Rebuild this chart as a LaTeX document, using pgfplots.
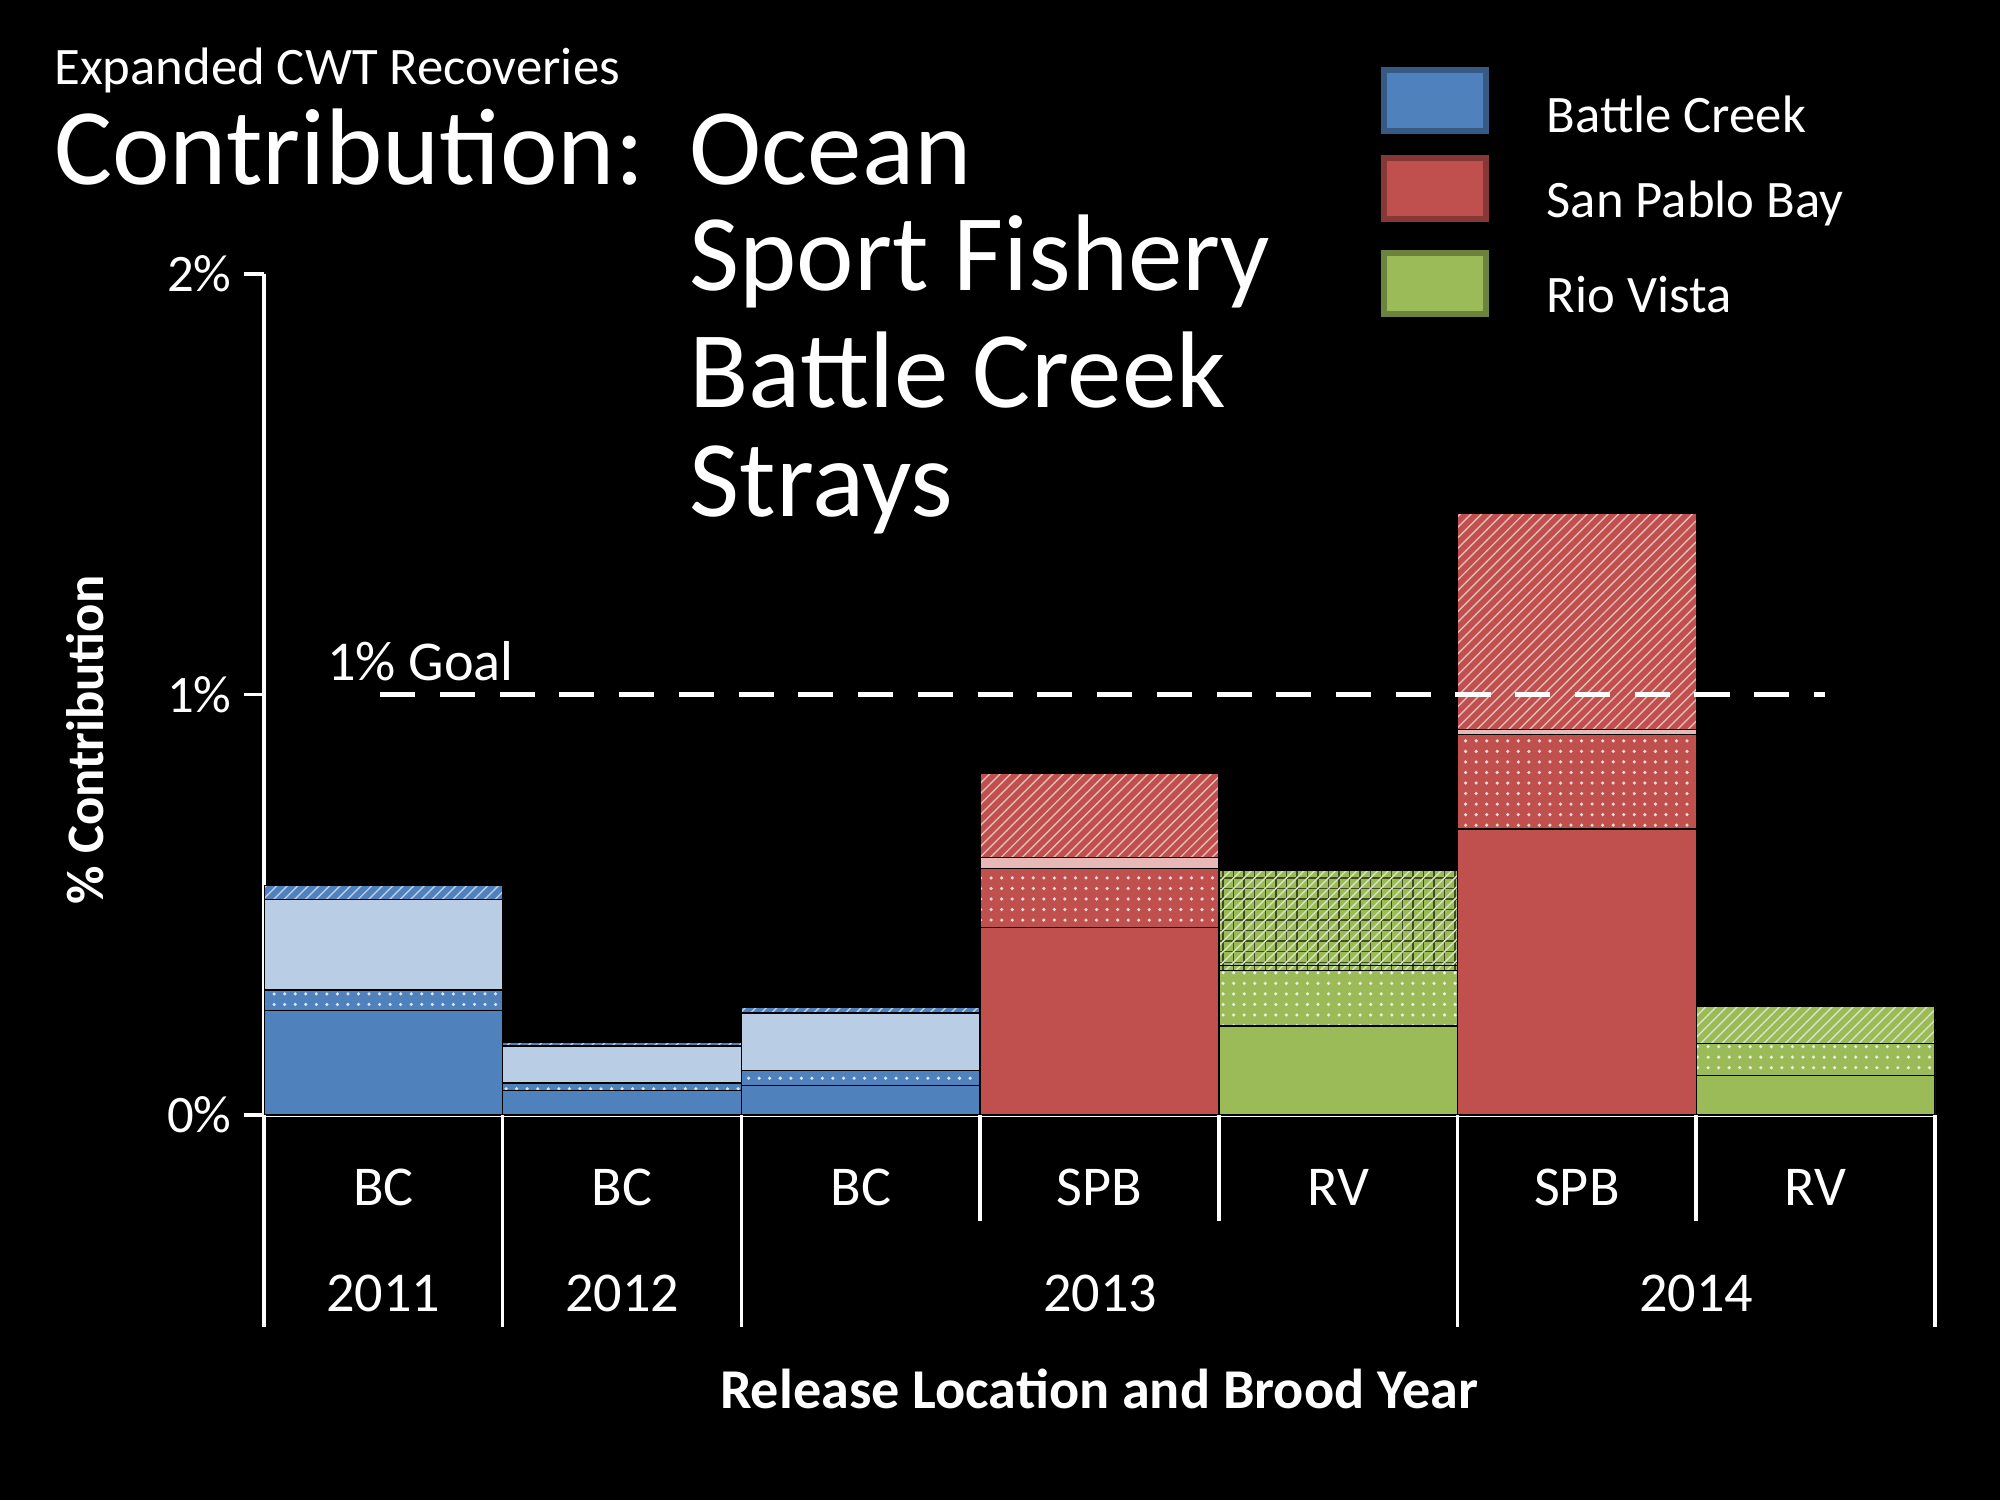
\documentclass[border=0pt]{standalone}
\usepackage{pgfplots}
\pgfplotsset{compat=1.18}
\usepackage{fontspec}
\setmainfont{Carlito}
\usetikzlibrary{patterns}
\definecolor{cb}{HTML}{4F81BD}
\definecolor{cbl}{HTML}{B9CDE5}
\definecolor{cr}{HTML}{C0504D}
\definecolor{crl}{HTML}{E6B9B8}
\definecolor{cg}{HTML}{9BBB59}
\begin{document}
\begin{tikzpicture}[x=1cm,y=1cm]
\fill[black] (0,0) rectangle (20,15);
\useasboundingbox (0,0) rectangle (20,15);
\pgfplotsset{base/.style={at={(2.64cm,3.85cm)},anchor=origin,scale only axis,width=16.71cm,height=8.41cm,
  xmin=0,xmax=7,ymin=0,ymax=2},
  bars/.style={base,ybar stacked,bar width=1,
  every axis plot/.append style={draw=black,line width=0.4pt}},
  hid/.style={bars,hide axis},
  sol/.style={fill=#1},
  dotp/.style={fill=#1,postaction={pattern=dots,pattern color=white!80!#1}},
  hat/.style={fill=#1,postaction={pattern=north east lines,pattern color=white!60!#1}},
  grd/.style={fill=#1,postaction={pattern=grid,pattern color=black!60!#1},postaction={pattern=north east lines,pattern color=white!60!#1}}}
\begin{axis}[bars, axis lines*=left, axis line style={white,line width=1pt},
  xtick=\empty, ytick={0,1,2}, yticklabels={0\%,1\%,2\%}, tick align=outside,
  y tick style={white,line width=1pt}, major tick length=0.2cm,
  yticklabel style={white,font=\fontsize{15}{18}\selectfont},
  /pgf/number format/assume math mode=true]
\addplot[sol=cb] coordinates {(0.5,0.249)(1.5,0.058)(2.5,0.070)};
\addplot[dotp=cb] coordinates {(0.5,0.048)(1.5,0.018)(2.5,0.036)};
\addplot[sol=cbl] coordinates {(0.5,0.216)(1.5,0.088)(2.5,0.137)};
\addplot[hat=cb] coordinates {(0.5,0.033)(1.5,0.008)(2.5,0.012)};
\end{axis}
\begin{axis}[hid]
\addplot[sol=cr] coordinates {(3.5,0.446)(5.5,0.680)};
\addplot[dotp=cr] coordinates {(3.5,0.140)(5.5,0.225)};
\addplot[sol=crl] coordinates {(3.5,0.027)(5.5,0.012)};
\addplot[hat=cr] coordinates {(3.5,0.200)(5.5,0.515)};
\end{axis}
\begin{axis}[hid]
\addplot[sol=cg] coordinates {(4.5,0.212)(6.5,0.094)};
\addplot[dotp=cg] coordinates {(4.5,0.131)(6.5,0.076)};
\addplot[grd=cg] coordinates {(4.5,0.012)(6.5,0.0)};
\addplot[grd=cg] coordinates {(4.5,0.228)(6.5,0.0)};
\addplot[hat=cg] coordinates {(4.5,0.0)(6.5,0.088)};
\end{axis}
\begin{axis}[base,hide axis]
\addplot[sharp plot,white,line width=1.5pt,dash pattern=on 10pt off 7pt] coordinates {(0.486,1)(6.54,1)};
\end{axis}
% separators
\foreach \x/\b in {2.64/1.735,5.027/1.735,7.414/1.735,9.801/2.79,12.188/2.79,14.575/1.735,16.962/2.79,19.35/1.735}
  \draw[white,line width=1pt] (\x,3.85) -- (\x,\b);
\foreach \i/\t in {0/BC,1/BC,2/BC,3/SPB,4/RV,5/SPB,6/RV}
  \node[white,font=\fontsize{16}{19}\selectfont] at ({2.64+(\i+0.5)*2.387},3.125) {\t};
\foreach \x/\t in {3.833/2011,6.22/2012,11.0/2013,16.96/2014}
  \node[white,font=\fontsize{16}{19}\selectfont] at (\x,2.07) {\t};
\node[white,font=\bfseries\fontsize{16}{19}\selectfont] at (10.99,1.11) {Release Location and Brood Year};
\node[white,font=\bfseries\fontsize{15}{18}\selectfont,rotate=90] at (0.855,7.6) {\% Contribution};
\node[white,anchor=west,font=\fontsize{16}{19}\selectfont] at (3.15,8.39) {1\% Goal};
% titles
\node[white,anchor=west,inner sep=0,font=\fontsize{15}{18}\selectfont] at (0.536,14.3) {Expanded CWT Recoveries};
\node[white,anchor=base west,inner sep=0,font=\fontsize{31}{36}\selectfont] at (0.536,13.15) {Contribution:};
\foreach \y/\t in {13.15/Ocean,12.09/Sport Fishery,10.92/Battle Creek,9.83/Strays}
  \node[white,anchor=base west,inner sep=0,font=\fontsize{31}{36}\selectfont] at (6.89,\y) {\t};
% legend
\foreach \ya/\yb/\c/\yt/\t in {14.30/13.69/cb/13.86/Battle Creek,13.42/12.81/cr/12.97/San Pablo Bay,12.47/11.86/cg/12.05/Rio Vista}{
  \filldraw[fill=\c,draw=\c!70!black,line width=1.5pt] (13.84,\ya) rectangle (14.86,\yb);
  \node[white,anchor=west,inner sep=0,font=\fontsize{15}{18}\selectfont] at (15.46,\yt) {\t};}
\end{tikzpicture}
\end{document}
